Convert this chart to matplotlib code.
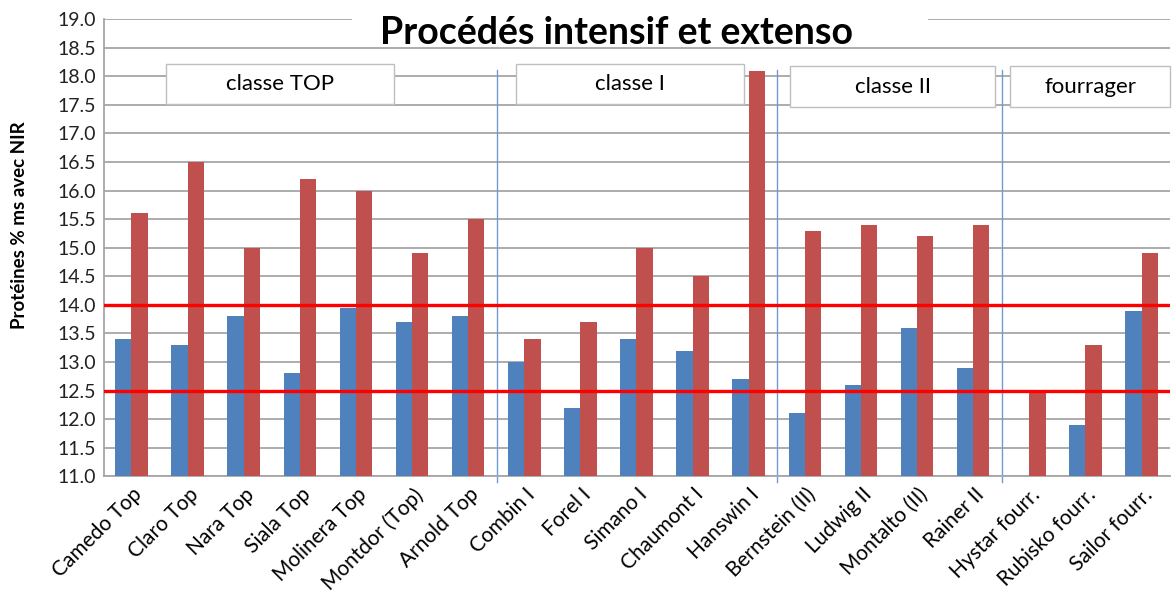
import numpy as np
from matplotlib import pyplot as plt
from matplotlib.patches import Rectangle

varieties = ["Camedo Top", "Claro Top", "Nara Top", "Siala Top", "Molinera Top",
             "Montdor (Top)", "Arnold Top", "Combin I", "Forel I", "Simano I",
             "Chaumont I", "Hanswin I", "Bernstein (II)", "Ludwig II", "Montalto (II)",
             "Rainer II", "Hystar fourr.", "Rubisko fourr.", "Sailor fourr."]
extenso = [13.4, 13.3, 13.8, 12.8, 13.95, 13.7, 13.8, 13.0, 12.2, 13.4,
           13.2, 12.7, 12.1, 12.6, 13.6, 12.9, np.nan, 11.9, 13.9]
intensif = [15.6, 16.5, 15.0, 16.2, 16.0, 14.9, 15.5, 13.4, 13.7, 15.0,
            14.5, 18.1, 15.3, 15.4, 15.2, 15.4, 12.5, 13.3, 14.9]
seuils = [14.0, 12.5]
classes = ["classe TOP", "classe I", "classe II", "fourrager"]
separations = [6.5, 11.5, 15.5]

plt.rcParams['font.family'] = ['Lato', 'DejaVu Sans']

fig = plt.figure(figsize=(11.76, 6.02), dpi=100)
ax = fig.add_axes([0.0884, 0.209, 0.9066, 0.759])

x = np.arange(len(varieties))
w = 0.29
ax.bar(x - 0.155, extenso, w, color='#4F81BD', zorder=3)
ax.bar(x + 0.135, intensif, w, color='#C0504D', zorder=3)

for s in seuils:
    ax.axhline(s, color='#FF0000', lw=2.4, zorder=4)

for s in separations:
    ax.axvline(s, ymin=-0.013, ymax=0.888, color='#6E9BD3', lw=1.0,
               clip_on=False, zorder=2)

ax.set_xlim(-0.5, len(varieties) - 0.5)
ax.set_ylim(11, 19)
ax.set_yticks(np.arange(11, 19.01, 0.5))
ax.set_yticklabels([f"{v:.1f}" for v in np.arange(11, 19.01, 0.5)], fontsize=14, color='#222222')
ax.yaxis.grid(True, color='#A6A6A6', lw=1.3, zorder=0)
ax.set_axisbelow(True)
ax.tick_params(length=0, pad=6)
ax.set_xticks(x)
ax.set_xticklabels(varieties, rotation=45, ha='right', rotation_mode='anchor', fontsize=15)
for sp in ['top', 'right']:
    ax.spines[sp].set_visible(False)
for sp in ['left', 'bottom']:
    ax.spines[sp].set_color('#A6A6A6')
    ax.spines[sp].set_linewidth(1.3)
ax.set_ylabel("Protéines % ms avec NIR", fontsize=13.5, fontweight='bold')
ax.yaxis.set_label_coords(-0.071, 0.55)

# title box covering the top gridlines
ax.add_patch(Rectangle((0.233, 0.955), 0.54, 0.12, transform=ax.transAxes,
                       facecolor='white', edgecolor='none', zorder=5, clip_on=False))
ax.text(0.481, 0.97, "Procédés intensif et extenso", transform=ax.transAxes,
        ha='center', va='center', fontsize=27, fontweight='bold', zorder=6)

boites = [(0.058, 0.272, 0.814, 0.9015), (0.3865, 0.600, 0.814, 0.9015),
          (0.6435, 0.836, 0.808, 0.897), (0.85, 1.0, 0.808, 0.897)]
for nom, (x0, x1, y0, y1) in zip(classes, boites):
    ax.add_patch(Rectangle((x0, y0), x1 - x0, y1 - y0, transform=ax.transAxes,
                           facecolor='white', edgecolor='#BFBFBF', lw=1.0, zorder=5,
                           clip_on=False))
    ax.text((x0 + x1) / 2, (y0 + y1) / 2, nom, transform=ax.transAxes,
            ha='center', va='center', fontsize=16, zorder=6)

fig.savefig("out.png", dpi=100)
